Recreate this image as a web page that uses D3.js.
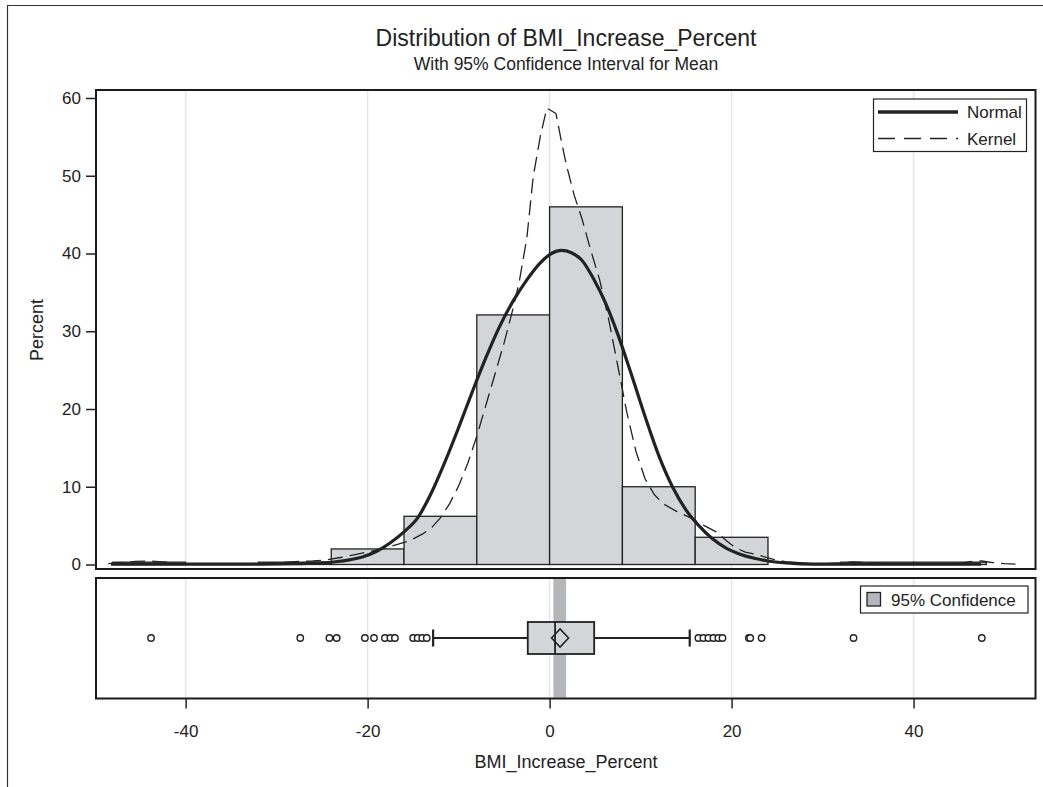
<!DOCTYPE html>
<html>
<head>
<meta charset="utf-8">
<title>Distribution of BMI_Increase_Percent</title>
<script src="https://cdn.jsdelivr.net/npm/d3@7"></script>
<style>
  body { margin: 0; background: #fff; }
  svg { display: block; font-family: "Liberation Sans", Arial, sans-serif; }
</style>
</head>
<body>
<svg width="1043" height="787"></svg>
<script>
// histogram: 8-unit bins, percent of observations
var binStarts = [-48, -40, -32, -24, -16, -8, 0, 8, 16, 24, 32, 40];
var binPercent = [0.3, 0, 0.3, 2.0, 6.2, 32.1, 46.0, 10.0, 3.5, 0, 0.3, 0.3];
var binWidth = 8;

// fitted curves [x, percent]
var normalPoints = [[-48.2,0.05],[-40,0.05],[-32,0.05],[-28,0.1],[-25,0.2],[-23.5,0.35],[-22,0.6],
  [-20.5,1.0],[-19,1.7],[-17.5,2.8],[-16,4.2],[-14.5,6.0],[-13,9.2],[-11.5,13.2],[-10,17.6],
  [-8.5,22.2],[-7,26.6],[-5.5,30.6],[-4,33.9],[-2.5,36.6],[-1.1,38.7],[0.2,40.0],[1.3,40.4],
  [2.4,40.1],[3.5,39.2],[4.9,36.6],[6.2,33.5],[7.5,29.6],[9,24.4],[10.5,19.0],[12,14.0],
  [13.5,10.0],[15,7.0],[16.4,5.0],[17.9,3.3],[19.4,2.1],[21,1.3],[22.5,0.8],[24,0.45],
  [26,0.2],[29,0.05],[35,0.05],[47.4,0.05]];

var kernelPoints = [[-48.5,0.1],[-47,0.25],[-45.5,0.4],[-44,0.45],[-42.5,0.35],[-41,0.15],
  [-39,0.05],[-36,0.05],[-33,0.1],[-31,0.2],[-29,0.3],[-27.5,0.4],[-26,0.45],[-24.5,0.6],
  [-23,0.9],[-21.5,1.25],[-20,1.6],[-18.5,2.0],[-17,2.5],[-15.5,3.0],[-14,3.9],[-13,4.7],
  [-12,6.0],[-11,7.8],[-10,10.1],[-9,13.0],[-8,16.5],[-7,20.5],[-6,24.5],[-5,28.5],
  [-4,33],[-3.3,36.6],[-2.5,42],[-1.8,49.9],[-1,55.2],[-0.3,58.7],[0.7,58],[1.2,55],
  [1.8,51.6],[2.7,47.5],[3.6,44.3],[4.5,40.5],[5.5,36.6],[6.5,31.5],[7.5,25.5],[8.5,19.5],
  [9.5,14.5],[10.5,11],[11.5,9],[12.5,7.8],[14,6.8],[15.5,6.0],[17,5.0],[18.3,4.2],
  [19.5,3.0],[20.5,2.1],[21.5,1.6],[23,1.2],[24.5,0.7],[26,0.35],[28,0.15],[30,0.1],
  [32,0.2],[33.3,0.35],[35,0.2],[38,0.05],[42,0.05],[45,0.15],[46.5,0.4],[47.5,0.45],
  [48.7,0.25],[50,0.1],[51.2,0.05]];

// box plot summary
var q1 = -2.4, median = 0.6, q3 = 4.9, mean = 1.15;
var whiskerLow = -12.8, whiskerHigh = 15.4;
var ciLow = 0.42, ciHigh = 1.81;
var outliers = [-43.8, -27.4, -24.2, -23.4, -20.3, -19.3, -18.1, -17.5, -17.0,
  -15.0, -14.5, -14.0, -13.5,
  16.35, 16.9, 17.45, 18.0, 18.55, 19.0, 21.9, 22.05, 23.3, 33.4, 47.5];

var xTicks = [-40, -20, 0, 20, 40];
var yTicks = [0, 10, 20, 30, 40, 50, 60];

var ink = "#222";
var barFill = "#d4d5d9";
var bandFill = "#b5b6bb";

var svg = d3.select("svg");

// outer frame (cut off at right and bottom like the original)
svg.append("path")
  .attr("d", "M7.5,800 L7.5,5.5 L1050,5.5")
  .attr("fill", "none").attr("stroke", "#333").attr("stroke-width", 1.2);

var x = d3.scaleLinear().domain([-49.85, 53.4]).range([96, 1035.5]);
var y = d3.scaleLinear().domain([0, 60]).range([564.5, 98]);

var top0 = 90, top1 = 569, box0 = 578, box1 = 698.5;

// titles
svg.append("text").attr("x", 566).attr("y", 46).attr("text-anchor", "middle")
  .attr("font-size", 23).attr("fill", ink).text("Distribution of BMI_Increase_Percent");
svg.append("text").attr("x", 566).attr("y", 70).attr("text-anchor", "middle")
  .attr("font-size", 17.5).attr("fill", ink).text("With 95% Confidence Interval for Mean");

// gridlines in both panels
[[top0, top1], [box0, box1]].forEach(function(p){
  svg.append("g").selectAll("line").data(xTicks).enter().append("line")
    .attr("x1", function(d){ return x(d); }).attr("x2", function(d){ return x(d); })
    .attr("y1", p[0]).attr("y2", p[1])
    .attr("stroke", "#e6e6e6").attr("stroke-width", 1.5);
});

// histogram bars
svg.append("g").selectAll("rect")
  .data(binStarts.map(function(s, i){ return {s: s, p: binPercent[i]}; }).filter(function(d){ return d.p > 0; }))
  .enter().append("rect")
  .attr("x", function(d){ return x(d.s); })
  .attr("width", function(d){ return x(d.s + binWidth) - x(d.s); })
  .attr("y", function(d){ return y(d.p); })
  .attr("height", function(d){ return y(0) - y(d.p); })
  .attr("fill", barFill).attr("stroke", ink).attr("stroke-width", 1.3);

var smooth = d3.line()
  .x(function(d){ return x(d[0]); })
  .y(function(d){ return y(d[1]); })
  .curve(d3.curveMonotoneX);
var straight = d3.line()
  .x(function(d){ return x(d[0]); })
  .y(function(d){ return y(d[1]); });

svg.append("path").datum(kernelPoints).attr("d", straight)
  .attr("fill", "none").attr("stroke", ink).attr("stroke-width", 1.3)
  .attr("stroke-linejoin", "round").attr("stroke-dasharray", "15,7");

svg.append("path").datum(normalPoints).attr("d", smooth)
  .attr("fill", "none").attr("stroke", ink).attr("stroke-width", 3.2)
  .attr("stroke-linejoin", "round");

// legend (curves)
var lg = svg.append("g");
lg.append("rect").attr("x", 873.5).attr("y", 99).attr("width", 153).attr("height", 52.5)
  .attr("fill", "#fff").attr("stroke", ink).attr("stroke-width", 1.2);
lg.append("line").attr("x1", 878).attr("x2", 958).attr("y1", 112).attr("y2", 112)
  .attr("stroke", ink).attr("stroke-width", 3.5);
lg.append("line").attr("x1", 878).attr("x2", 958).attr("y1", 138.5).attr("y2", 138.5)
  .attr("stroke", ink).attr("stroke-width", 1.3).attr("stroke-dasharray", "17,9");
lg.append("text").attr("x", 967).attr("y", 118).attr("font-size", 17).attr("fill", ink).text("Normal");
lg.append("text").attr("x", 967).attr("y", 144.5).attr("font-size", 17).attr("fill", ink).text("Kernel");

svg.append("rect").attr("x", 96).attr("y", top0).attr("width", 939.5).attr("height", top1 - top0)
  .attr("fill", "none").attr("stroke", "#1a1a1a").attr("stroke-width", 2);

// y axis
var yAxis = svg.append("g").attr("transform", "translate(96,0)")
  .call(d3.axisLeft(y).tickValues(yTicks).tickSize(10).tickPadding(5).tickFormat(function(d){ return String(d); }));
yAxis.select(".domain").remove();
yAxis.selectAll("line").attr("stroke", ink).attr("stroke-width", 1.5);
yAxis.selectAll("text").attr("font-size", 17).attr("fill", ink).attr("font-family", "Liberation Sans, Arial, sans-serif");

svg.append("text").attr("transform", "translate(43,330) rotate(-90)")
  .attr("text-anchor", "middle").attr("font-size", 18).attr("fill", ink).text("Percent");

// box plot panel
var cy = 638;
svg.append("rect").attr("x", x(ciLow)).attr("width", x(ciHigh) - x(ciLow))
  .attr("y", box0 + 1).attr("height", box1 - box0 - 2).attr("fill", bandFill);

var bp = svg.append("g").attr("stroke", ink).attr("stroke-width", 1.8);
bp.append("line").attr("x1", x(whiskerLow)).attr("x2", x(q1)).attr("y1", cy).attr("y2", cy);
bp.append("line").attr("x1", x(q3)).attr("x2", x(whiskerHigh)).attr("y1", cy).attr("y2", cy);
bp.append("line").attr("x1", x(whiskerLow)).attr("x2", x(whiskerLow)).attr("y1", cy - 8.5).attr("y2", cy + 8.5).attr("stroke-width", 2.2);
bp.append("line").attr("x1", x(whiskerHigh)).attr("x2", x(whiskerHigh)).attr("y1", cy - 8.5).attr("y2", cy + 8.5).attr("stroke-width", 2.2);
bp.append("rect").attr("x", x(q1)).attr("width", x(q3) - x(q1)).attr("y", cy - 16).attr("height", 32)
  .attr("fill", barFill);
bp.append("line").attr("x1", x(median)).attr("x2", x(median)).attr("y1", cy - 16).attr("y2", cy + 16);
bp.append("path")
  .attr("d", "M" + (x(mean) - 8.5) + "," + cy + " L" + x(mean) + "," + (cy - 9) + " L" + (x(mean) + 8.5) + "," + cy + " L" + x(mean) + "," + (cy + 9) + "Z")
  .attr("fill", "none").attr("stroke-width", 1.6);

svg.append("g").selectAll("circle").data(outliers).enter().append("circle")
  .attr("cx", function(d){ return x(d); }).attr("cy", cy).attr("r", 3.2)
  .attr("fill", "#fff").attr("stroke", ink).attr("stroke-width", 1.4);

// legend (confidence)
var lc = svg.append("g");
lc.append("rect").attr("x", 860.5).attr("y", 586).attr("width", 167.5).attr("height", 27)
  .attr("fill", "#fff").attr("stroke", ink).attr("stroke-width", 1.2);
lc.append("rect").attr("x", 867).attr("y", 592.5).attr("width", 13.5).attr("height", 13.5)
  .attr("fill", bandFill).attr("stroke", ink).attr("stroke-width", 1.3);
lc.append("text").attr("x", 891).attr("y", 605.5).attr("font-size", 17).attr("fill", ink).text("95% Confidence");

svg.append("rect").attr("x", 96).attr("y", box0).attr("width", 939.5).attr("height", box1 - box0)
  .attr("fill", "none").attr("stroke", "#1a1a1a").attr("stroke-width", 2);

// x axis
var xAxis = svg.append("g").attr("transform", "translate(0," + box1 + ")")
  .call(d3.axisBottom(x).tickValues(xTicks).tickSize(10).tickPadding(16).tickFormat(function(d){ return String(d); }));
xAxis.select(".domain").remove();
xAxis.selectAll("line").attr("stroke", ink).attr("stroke-width", 1.5);
xAxis.selectAll("text").attr("font-size", 17).attr("fill", ink).attr("font-family", "Liberation Sans, Arial, sans-serif");

svg.append("text").attr("x", 566).attr("y", 768).attr("text-anchor", "middle")
  .attr("font-size", 18).attr("fill", ink).text("BMI_Increase_Percent");
</script>
</body>
</html>
